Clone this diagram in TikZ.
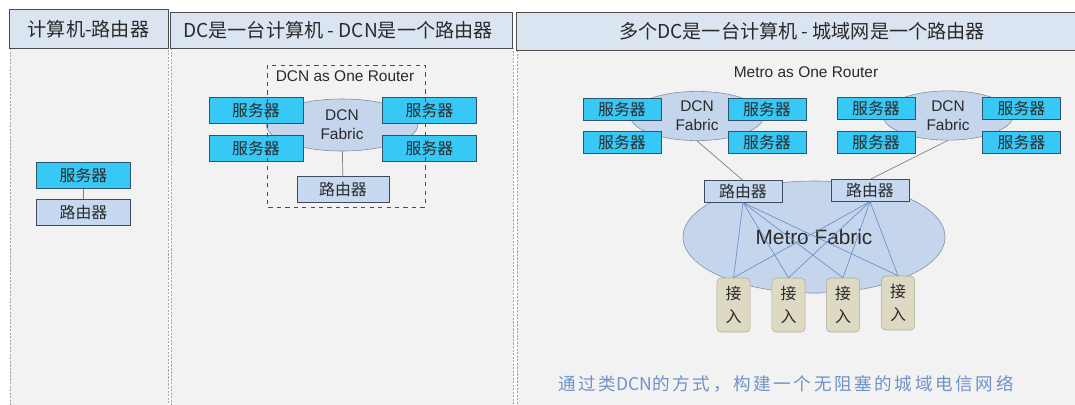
\documentclass[tikz,border=0pt]{standalone}
\usepackage{fontspec}
\setmainfont{Liberation Sans}
\newfontfamily\cjk{Noto Sans CJK SC}
\newfontfamily\cjkwide[LetterSpace=15]{Noto Sans CJK SC}
\usetikzlibrary{shapes.geometric}

\definecolor{hdrfill}{HTML}{DBE5F1}
\definecolor{bodyfill}{HTML}{F2F2F2}
\definecolor{srvfill}{HTML}{38C8F6}
\definecolor{srvline}{HTML}{2E5470}
\definecolor{rtrfill}{HTML}{C6D9F1}
\definecolor{rtrline}{HTML}{3F4A5A}
\definecolor{cloudfill}{HTML}{C5D5EC}
\definecolor{cloudline}{HTML}{7F8CA0}
\definecolor{accfill}{HTML}{DDD9C3}
\definecolor{accline}{HTML}{B0AC98}
\definecolor{linkblue}{HTML}{5B87C5}
\definecolor{notecol}{HTML}{6F93C6}
\definecolor{txt}{HTML}{2A2A2A}

\begin{document}
\begin{tikzpicture}[x=0.025cm, y=-0.025cm,
    hdr/.style={draw=black!70, fill=hdrfill, line width=0.6pt},
    body/.style={draw=black!35, fill=bodyfill, dash pattern=on 1.5pt off 1pt},
    hdrtext/.style={text=txt, font=\cjk\fontsize{13.6}{15}\selectfont},
    srv/.style={draw=srvline, fill=srvfill, text=txt, inner sep=0pt,
      minimum width=2.35cm, minimum height=0.64cm, font=\cjk\fontsize{11.3}{13}\selectfont},
    srvsmall/.style={srv, minimum width=1.95cm, minimum height=0.54cm},
    rtr/.style={srv, draw=rtrline, fill=rtrfill},
    rtrsmall/.style={srvsmall, draw=rtrline, fill=rtrfill},
    fabric/.style={ellipse, draw=cloudline, fill=cloudfill, text=txt, inner sep=0pt,
      align=center, font=\fontsize{11}{13.5}\selectfont},
    acc/.style={rounded corners=3pt, draw=accline, fill=accfill, text=txt, inner sep=0pt,
      minimum width=0.83cm, minimum height=1.35cm, align=center,
      font=\cjk\fontsize{11.3}{16}\selectfont},
    link/.style={draw=gray, line width=0.5pt},
    mlink/.style={draw=linkblue, line width=0.4pt}]
  \useasboundingbox (0,0) rectangle (1075,404);
  \clip (0,0) rectangle (1075,404);

  % panels
  \draw[body] (10,48) rectangle (168,412);
  \draw[body] (171,48) rectangle (513,412);
  \draw[body] (517,50) rectangle (1082,412);
  \draw[hdr] (9,9) rectangle (168,48);
  \draw[hdr] (170,12) rectangle (512,48);
  \draw[hdr] (516,12) rectangle (1082,50);
  \node[hdrtext] (h1) at (88.5,29) {计算机-路由器};
  \node[hdrtext] (h2) at (338,30) {DC是一台计算机 - DCN是一个路由器};
  \node[hdrtext] (h3) at (802,31) {多个DC是一台计算机 - 城域网是一个路由器};

  % computer - router
  \node[srv] (pc) at (83.5,175.5) {服务器};
  \node[rtr] (pcr) at (83.5,212.5) {路由器};
  \draw[link] (pc) -- (pcr);

  % DCN as one router
  \node[fabric, minimum width=3.78cm, minimum height=1.3cm] (dcn) at (342,125) {DCN\\Fabric};
  \node[srv] (s1) at (256,110) {服务器};
  \node[srv] (s2) at (256,148.5) {服务器};
  \node[srv] (s3) at (429.5,110) {服务器};
  \node[srv] (s4) at (429.5,148.5) {服务器};
  \node[rtr, minimum width=2.3cm] (dcnr) at (343,189.5) {路由器};
  \draw[link] (dcn) -- (dcnr);
  \draw[black!70, dashed] (267,65) rectangle (425,207);
  \node[text=txt, font=\fontsize{11}{13}\selectfont] (dcnt) at (345,76) {DCN as One Router};

  % Metro as one router
  \node[text=txt, font=\fontsize{11}{13}\selectfont] (mt) at (806,72) {Metro as One Router};
  \node[fabric, minimum width=3.33cm, minimum height=1.23cm] (dca) at (697,116) {DCN\\Fabric};
  \node[srvsmall] (a1) at (622,109.5) {服务器};
  \node[srvsmall] (a2) at (622,142.5) {服务器};
  \node[srvsmall] (a3) at (767,109.5) {服务器};
  \node[srvsmall] (a4) at (767,142.5) {服务器};
  \node[fabric, minimum width=3.25cm, minimum height=1.23cm] (dcb) at (948,115.5) {DCN\\Fabric};
  \node[srvsmall] (b1) at (876,108) {服务器};
  \node[srvsmall] (b2) at (876,142) {服务器};
  \node[srvsmall] (b3) at (1021.5,108) {服务器};
  \node[srvsmall] (b4) at (1021.5,142) {服务器};

  \node[fabric, minimum width=6.55cm, minimum height=2.8cm,
    font=\fontsize{14.8}{17}\selectfont] (metro) at (814,237) {Metro Fabric};
  \node[rtrsmall] (ra) at (743,191.5) {路由器};
  \node[rtrsmall] (rb) at (870,190.5) {路由器};
  \draw[link] (dca.south) -- (ra.north);
  \draw[link] (dcb.south) -- (rb.north);

  \node[acc] (c1) at (733.5,305) {接\\入};
  \node[acc] (c2) at (788.5,305) {接\\入};
  \node[acc] (c3) at (843,305) {接\\入};
  \node[acc] (c4) at (898,303) {接\\入};
  \foreach \c in {c1,c2,c3,c4} {
    \draw[mlink] (ra.south) -- (\c.north);
    \draw[mlink] (rb.south) -- (\c.north);
  }

  \node[text=notecol, font=\cjkwide\fontsize{12.5}{15}\selectfont] (note) at (786,384)
    {通过类{\cjk DCN}的方式，构建一个无阻塞的城域电信网络};
\end{tikzpicture}
\end{document}
